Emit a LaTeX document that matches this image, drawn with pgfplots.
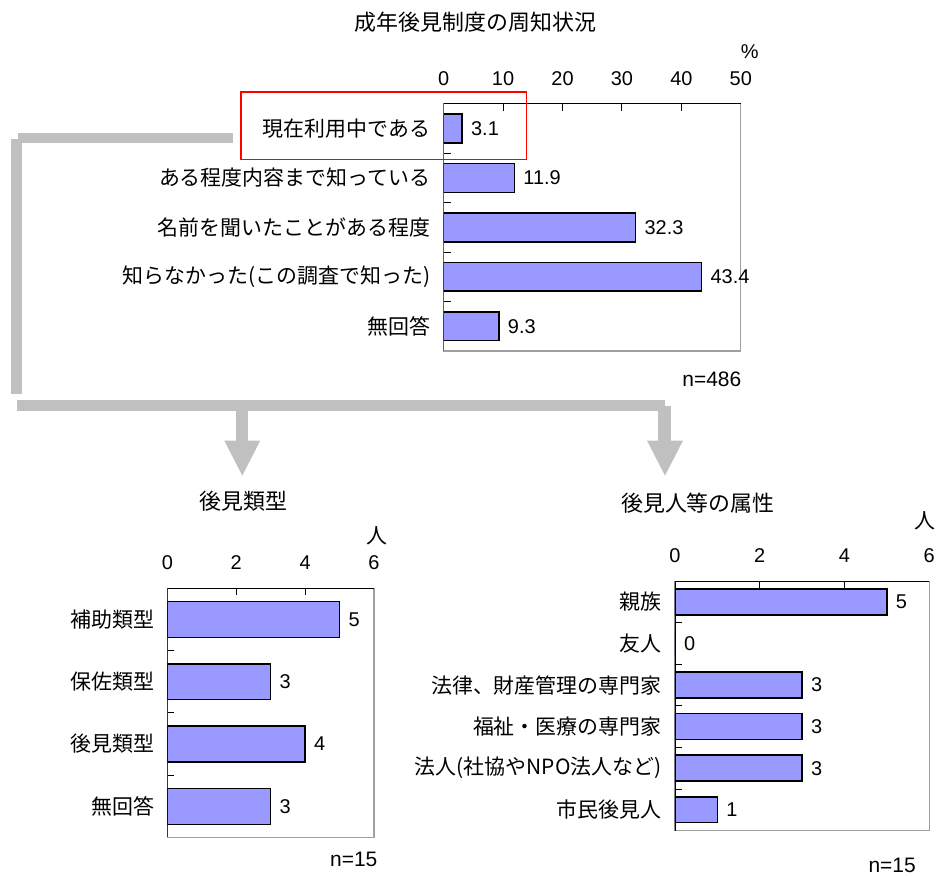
\documentclass[border=0pt]{standalone}
\usepackage{fontspec}
\setmainfont{Liberation Sans}
\newfontfamily\jp{Noto Sans CJK JP}
\usepackage{pgfplots}
\pgfplotsset{compat=1.18}
\definecolor{barfill}{HTML}{9999FF}
\definecolor{conn}{HTML}{C0C0C0}
\definecolor{boxred}{HTML}{FF0000}
\newcommand\fs{\fontsize{20}{24}\selectfont}
\newcommand\fl{\fontsize{21}{25}\selectfont}
\newcommand\ft{\fontsize{22}{26}\selectfont}
\pgfplotsset{
 hb/.style={
  xbar, scale only axis, anchor=north west, y dir=reverse, xmin=0,
  /pgf/number format/assume math mode=true,
  axis line style={draw=gray!75, line width=1.3pt},
  tick align=inside,
  xtick pos=right, xticklabel pos=right,
  ytick pos=left,
  major tick length=7pt,
  every tick/.style={black, line width=0.9pt},
  ticklabel style={font=\fs},
  xticklabel style={yshift=15pt},
  extra y tick style={major tick length=0pt, yticklabel style={font=\jp\fl, xshift=-10pt}},
  point meta=x,
  nodes near coords, nodes near coords align=horizontal,
  every node near coord/.append style={font=\fs, black, xshift=5pt},
 },
 bstyle/.style={fill=barfill, draw=black, line width=1.5pt},
}
\begin{document}
\begin{tikzpicture}
\begin{scope}[x=1pt,y=-1pt]
\useasboundingbox (0,0) rectangle (939,877);
% connectors
\fill[conn] (18,133) rectangle (234,143);
\fill[conn] (11,139) rectangle (22,395);
\fill[conn] (17,401) rectangle (667,412);
\fill[conn] (237,407) rectangle (249,442);
\fill[conn] (225,442) -- (261,442) -- (243,477) -- cycle;
\fill[conn] (660,407) rectangle (673,442);
\fill[conn] (649,442) -- (685,442) -- (667,477) -- cycle;
\end{scope}
% top chart
\begin{axis}[hb, at={(445pt,-104pt)}, width=298pt, height=248pt,
  xmax=50, xtick={0,10,...,50}, ymin=0.5, ymax=5.5,
  ytick={0.5,1.5,...,5.5}, yticklabels={,,,,,},
  extra y ticks={1,2,3,4,5},
  extra y tick labels={現在利用中である,ある程度内容まで知っている,名前を聞いたことがある程度,知らなかった(この調査で知った),無回答},
  bar width=29pt,
  nodes near coords={\pgfmathprintnumber[fixed,fixed zerofill,precision=1]{\pgfplotspointmeta}},
]
\addplot[bstyle] coordinates {(3.1,1) (11.9,2) (32.3,3) (43.4,4) (9.3,5)};
\draw[black, line width=1.3pt] (axis description cs:0,0) -- (axis description cs:0,1) -- (axis description cs:1,1);
\end{axis}
% bottom left
\begin{axis}[hb, at={(168pt,-590pt)}, width=207pt, height=250pt,
  xmax=6, xtick={0,2,4,6}, ymin=0.5, ymax=4.5,
  ytick={0.5,1.5,...,4.5}, yticklabels={,,,,},
  extra y ticks={1,2,3,4},
  extra y tick labels={補助類型,保佐類型,後見類型,無回答},
  bar width=36pt,
  nodes near coords={\pgfmathprintnumber[fixed,precision=0]{\pgfplotspointmeta}},
]
\addplot[bstyle] coordinates {(5,1) (3,2) (4,3) (3,4)};
\draw[black, line width=1.3pt] (axis description cs:0,0) -- (axis description cs:0,1) -- (axis description cs:1,1);
\end{axis}
% bottom right
\begin{axis}[hb, at={(677pt,-583pt)}, width=255pt, height=250pt,
  xmax=6, xtick={0,2,4,6}, ymin=0.5, ymax=6.5,
  ytick={0.5,1.5,...,6.5}, yticklabels={,,,,,,},
  extra y ticks={1,2,3,4,5,6},
  extra y tick labels={親族,友人,法律、財産管理の専門家,福祉・医療の専門家,法人(社協やNPO法人など),市民後見人},
  bar width=26pt,
  nodes near coords={\pgfmathprintnumber[fixed,precision=0]{\pgfplotspointmeta}},
]
\addplot[bstyle] coordinates {(5,1) (0,2) (3,3) (3,4) (3,5) (1,6)};
\draw[black, line width=1.3pt] (axis description cs:0,0) -- (axis description cs:0,1) -- (axis description cs:1,1);
\end{axis}
\begin{scope}[x=1pt,y=-1pt]
% red box
\draw[draw=boxred, line width=1.8pt] (242,92) -- (528,92) -- (528,160) -- (242,160) -- cycle;
% titles and notes
\node[font=\jp\ft] at (477,22) {成年後見制度の周知状況};
\node[font=\jp\ft] at (244,503) {後見類型};
\node[font=\jp\ft] at (700,505) {後見人等の属性};
\node[font=\fs] at (752,52) {\%};
\node[font=\jp\fl] at (378,537) {人};
\node[font=\jp\fl] at (928,522) {人};
\node[font=\fl, anchor=east] at (747,380) {n=486};
\node[font=\fl, anchor=east] at (382,862) {n=15};
\node[font=\fl, anchor=east] at (922,868) {n=15};
\end{scope}
\end{tikzpicture}
\end{document}
